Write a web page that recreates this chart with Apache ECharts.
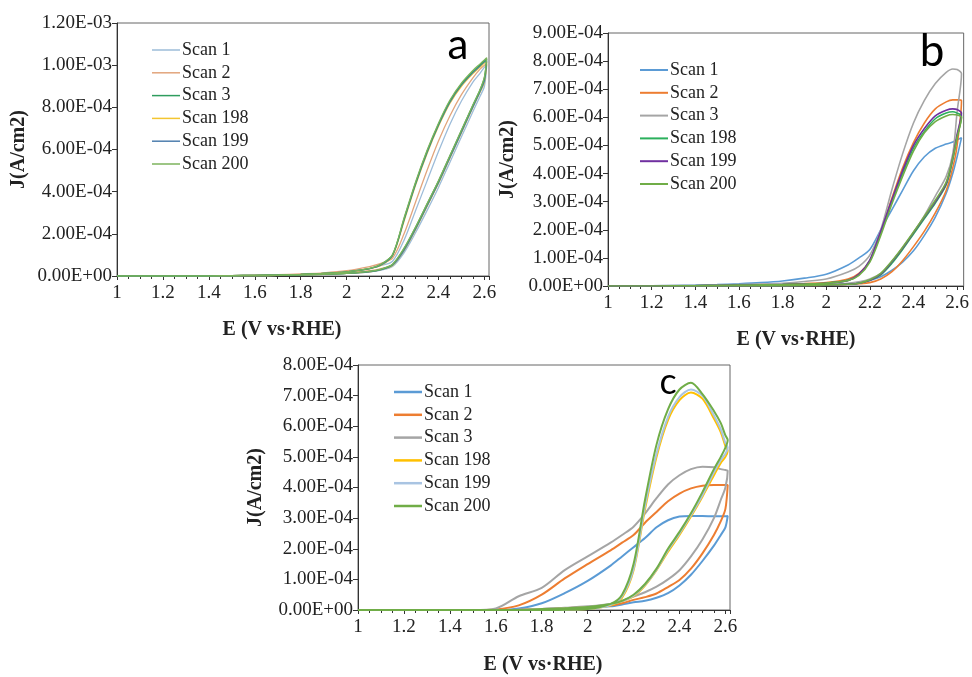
<!DOCTYPE html>
<html>
<head>
<meta charset="utf-8">
<script src="https://cdn.jsdelivr.net/npm/echarts@6/dist/echarts.min.js"></script>
<style>
html,body{margin:0;padding:0;background:#fff;}
#chart{width:972px;height:677px;}
</style>
</head>
<body>
<div id="chart"></div>
<script>
// ---------- DATA (current density in units of 1e-4 A/cm2) ----------
const SCANS = ['Scan 1', 'Scan 2', 'Scan 3', 'Scan 198', 'Scan 199', 'Scan 200'];
const E_GRID = [1.0, 1.2, 1.4, 1.5, 1.6, 1.7, 1.8, 1.9, 2.0, 2.1, 2.15, 2.2, 2.25, 2.3, 2.35, 2.4, 2.45, 2.5, 2.55, 2.58, 2.6];

// Panel a
const A_VERTEX_E = 2.61;
const A_UP = [
  [0,0,0.01,0.02,0.03,0.05,0.08,0.12,0.2,0.35,0.5,0.7,1.7,3.1,4.5,5.9,7.2,8.3,9.2,9.6,9.9],
  [0,0,0.01,0.02,0.04,0.06,0.1,0.15,0.25,0.45,0.6,0.85,2.0,3.5,5.0,6.4,7.6,8.6,9.4,9.8,10.0],
  [0,0,0.01,0.02,0.03,0.05,0.08,0.12,0.2,0.35,0.55,1.0,2.7,4.4,5.9,7.2,8.3,9.1,9.7,10.0,10.2],
  [0,0,0.01,0.02,0.03,0.05,0.08,0.12,0.2,0.35,0.5,0.95,2.6,4.3,5.8,7.1,8.2,9.0,9.6,9.9,10.1],
  [0,0,0.01,0.02,0.03,0.05,0.08,0.12,0.2,0.35,0.52,0.98,2.65,4.35,5.85,7.15,8.25,9.05,9.65,9.95,10.15],
  [0,0,0.01,0.02,0.03,0.05,0.08,0.12,0.2,0.36,0.56,1.02,2.75,4.45,5.95,7.25,8.35,9.15,9.75,10.05,10.25]
];
const A_VERTEX_J = [10.0, 10.05, 10.3, 10.15, 10.2, 10.35];
const A_DOWN = [
  [0,0,0,0.01,0.02,0.03,0.05,0.08,0.12,0.2,0.28,0.45,1.1,2.05,3.1,4.2,5.4,6.6,7.8,8.5,9.0],
  [0,0,0,0.01,0.02,0.03,0.05,0.09,0.15,0.25,0.35,0.55,1.25,2.25,3.35,4.45,5.65,6.85,8.05,8.75,9.3],
  [0,0,0,0.01,0.02,0.03,0.05,0.08,0.13,0.22,0.32,0.55,1.3,2.3,3.4,4.5,5.7,6.9,8.1,8.8,9.4],
  [0,0,0,0.01,0.02,0.03,0.05,0.08,0.12,0.2,0.3,0.5,1.2,2.2,3.3,4.4,5.6,6.8,8.0,8.7,9.2],
  [0,0,0,0.01,0.02,0.03,0.05,0.08,0.12,0.2,0.3,0.52,1.22,2.22,3.32,4.42,5.62,6.82,8.02,8.72,9.25],
  [0,0,0,0.01,0.02,0.03,0.05,0.08,0.13,0.22,0.33,0.56,1.32,2.32,3.42,4.52,5.72,6.92,8.12,8.82,9.45]
];

// Panel b
const B_VERTEX_E = 2.62;
const B_UP = [
  [0,0.01,0.03,0.05,0.08,0.12,0.18,0.28,0.42,0.75,1.0,1.3,2.0,2.7,3.4,4.1,4.6,4.9,5.05,5.12,5.2],
  [0,0,0.01,0.02,0.03,0.05,0.07,0.09,0.12,0.25,0.45,0.9,1.9,3.1,4.2,5.1,5.8,6.3,6.55,6.62,6.62],
  [0,0.01,0.02,0.03,0.05,0.07,0.1,0.16,0.25,0.5,0.7,1.1,2.0,3.4,4.7,5.8,6.6,7.2,7.6,7.72,7.7],
  [0,0,0.01,0.02,0.03,0.04,0.05,0.07,0.1,0.2,0.4,0.9,1.9,3.0,4.0,4.9,5.5,5.95,6.15,6.2,6.15],
  [0,0,0.01,0.02,0.03,0.04,0.05,0.07,0.1,0.2,0.42,0.92,1.95,3.05,4.1,5.0,5.6,6.05,6.25,6.3,6.28],
  [0,0,0.01,0.02,0.03,0.04,0.05,0.07,0.1,0.2,0.38,0.85,1.8,2.9,3.9,4.8,5.45,5.85,6.05,6.1,6.08]
];
const B_VERTEX_J = [5.27, 6.6, 7.55, 6.05, 6.15, 6.0];
const B_DOWN = [
  [0,0,0.003,0.005,0.008,0.01,0.015,0.02,0.03,0.08,0.12,0.2,0.33,0.55,0.85,1.25,1.8,2.45,3.3,4.0,4.6],
  [0,0,0,0.005,0.008,0.01,0.015,0.02,0.03,0.06,0.08,0.12,0.25,0.5,0.9,1.4,1.95,2.6,3.4,4.2,5.0],
  [0,0,0.003,0.005,0.008,0.01,0.02,0.03,0.06,0.1,0.15,0.25,0.45,0.85,1.35,1.9,2.5,3.2,3.9,4.7,6.2],
  [0,0,0,0.005,0.008,0.01,0.015,0.02,0.04,0.06,0.1,0.2,0.4,0.8,1.3,1.85,2.4,2.95,3.6,4.5,5.3],
  [0,0,0,0.005,0.008,0.01,0.015,0.02,0.04,0.06,0.1,0.2,0.42,0.85,1.35,1.9,2.45,3.0,3.65,4.55,5.4],
  [0,0,0,0.005,0.008,0.01,0.015,0.02,0.04,0.06,0.1,0.22,0.45,0.88,1.38,1.92,2.48,3.05,3.7,4.55,5.3]
];

// Panel c
const C_VERTEX_E = 2.61;
const C_UP = [
  [0,0,0,0,0,0.05,0.22,0.55,0.95,1.45,1.75,2.05,2.35,2.7,2.93,3.05,3.07,3.07,3.06,3.06,3.06],
  [0,0,0,0,0.02,0.15,0.5,1.03,1.5,1.95,2.2,2.45,2.85,3.2,3.55,3.8,3.97,4.06,4.08,4.08,4.08],
  [0,0,0,0,0.05,0.45,0.72,1.3,1.75,2.2,2.45,2.72,3.15,3.65,4.1,4.4,4.6,4.68,4.66,4.6,4.57],
  [0,0,0,0,0,0,0,0.01,0.03,0.15,0.4,1.3,3.3,5.0,6.2,6.85,7.1,6.9,6.25,5.8,5.35],
  [0,0,0,0,0,0,0,0.01,0.03,0.17,0.45,1.35,3.4,5.1,6.3,6.95,7.2,7.0,6.35,5.9,5.45],
  [0,0,0,0,0,0,0,0.01,0.03,0.2,0.5,1.5,3.6,5.4,6.55,7.2,7.42,7.05,6.5,6.1,5.7]
];
const C_VERTEX_J = [3.07, 4.08, 4.55, 5.2, 5.3, 5.55];
const C_DOWN = [
  [0,0,0,0,0,0.01,0.03,0.05,0.08,0.12,0.18,0.25,0.3,0.4,0.55,0.8,1.15,1.6,2.1,2.45,2.7],
  [0,0,0,0,0,0.01,0.03,0.06,0.1,0.15,0.22,0.33,0.42,0.54,0.75,0.98,1.35,1.85,2.45,2.9,3.3],
  [0,0,0,0,0,0.01,0.03,0.07,0.12,0.2,0.3,0.44,0.58,0.76,1.0,1.3,1.75,2.3,3.0,3.6,4.0],
  [0,0,0,0,0,0,0.02,0.05,0.09,0.18,0.28,0.45,0.8,1.3,1.9,2.45,3.05,3.7,4.4,4.8,5.0],
  [0,0,0,0,0,0,0.02,0.05,0.09,0.19,0.29,0.47,0.82,1.32,1.95,2.5,3.1,3.75,4.5,4.9,5.1],
  [0,0,0,0,0,0,0.03,0.06,0.1,0.2,0.3,0.5,0.85,1.35,2.0,2.55,3.16,3.85,4.6,5.0,5.3]
];

// ---------- STYLES ----------
const COLORS_A = ['#9dbcd9', '#e2a57c', '#2e9d5e', '#f3c531', '#4f7fae', '#7cb35c'];
const COLORS_B = ['#5b9bd5', '#ed7d31', '#a5a5a5', '#2bb05c', '#7030a0', '#70ad47'];
const COLORS_C = ['#5b9bd5', '#ed7d31', '#a5a5a5', '#ffc000', '#a9c4e2', '#70ad47'];
const SERIF = '"Liberation Serif", "DejaVu Serif", serif';

function loop(up, vE, vJ, down) {
  const pts = [];
  for (let i = 0; i < E_GRID.length; i++) pts.push([E_GRID[i], up[i]]);
  pts.push([vE, vJ]);
  for (let i = E_GRID.length - 1; i >= 0; i--) pts.push([E_GRID[i], down[i]]);
  return pts;
}

function sci(v) {
  const val = v * 1e-4;
  if (Math.abs(val) < 1e-12) return '0.00E+00';
  const exp = Math.floor(Math.log10(Math.abs(val)) + 1e-9);
  const mant = val / Math.pow(10, exp);
  const s = Math.abs(exp).toString().padStart(2, '0');
  return mant.toFixed(2) + 'E' + (exp < 0 ? '-' : '+') + s;
}

const panels = [
  {key: 'a', up: A_UP, down: A_DOWN, vE: A_VERTEX_E, vJ: A_VERTEX_J, colors: COLORS_A, width: 1.3, legendH: 1.5,
   grid: {left: 117, top: 23, width: 372, height: 253}, xMax: 2.62, yMax: 12, yInt: 2, nameGap: 88,
   legend: {left: 147, top: 36}},
  {key: 'b', up: B_UP, down: B_DOWN, vE: B_VERTEX_E, vJ: B_VERTEX_J, colors: COLORS_B, width: 1.6, legendH: 2,
   grid: {left: 608, top: 33, width: 359, height: 253}, xMax: 2.63, yMax: 9, yInt: 1, nameGap: 90,
   legend: {left: 635, top: 56}},
  {key: 'c', up: C_UP, down: C_DOWN, vE: C_VERTEX_E, vJ: C_VERTEX_J, colors: COLORS_C, width: 2, legendH: 2.5,
   grid: {left: 358, top: 365, width: 372, height: 245}, xMax: 2.62, yMax: 8, yInt: 1, nameGap: 92,
   legend: {left: 389, top: 378}}
];

const grids = [], xAxes = [], yAxes = [], series = [], legends = [];
panels.forEach((p, pi) => {
  grids.push(Object.assign({show: true, borderColor: '#666', borderWidth: 1, backgroundColor: '#fff'}, p.grid));
  xAxes.push({
    type: 'value', gridIndex: pi, min: 1, max: p.xMax, interval: 0.2,
    axisLine: {show: true, onZero: false, lineStyle: {color: '#333', width: 1}},
    axisTick: {show: true, inside: false, length: 4, lineStyle: {color: '#333'}},
    minorTick: {show: true, splitNumber: 4, length: 3, lineStyle: {color: '#333'}},
    splitLine: {show: false},
    axisLabel: {showMaxLabel: false, margin: 8, color: '#222', fontFamily: SERIF, fontSize: 19,
      formatter: v => String(Math.round(v * 10) / 10)}
  });
  yAxes.push({
    type: 'value', gridIndex: pi, min: 0, max: p.yMax, interval: p.yInt,
    name: 'J(A/cm2)', nameLocation: 'middle', nameRotate: 90, nameGap: p.nameGap,
    nameTextStyle: {fontFamily: SERIF, fontSize: 20, fontWeight: 'bold', color: '#222'},
    axisLine: {show: true, lineStyle: {color: '#333', width: 1}},
    axisTick: {show: true, inside: false, length: 5, lineStyle: {color: '#333'}},
    splitLine: {show: false},
    axisLabel: {margin: 5, color: '#222', fontFamily: SERIF, fontSize: 19, formatter: sci}
  });
  SCANS.forEach((s, si) => {
    series.push({
      name: p.key + '|' + s, type: 'line', xAxisIndex: pi, yAxisIndex: pi,
      data: loop(p.up[si], p.vE, p.vJ[si], p.down[si]),
      smooth: 0.3, symbol: 'none', showSymbol: false,
      lineStyle: {color: p.colors[si], width: p.width},
      itemStyle: {color: p.colors[si]},
      z: (pi === 0 && (si === 2 || si === 5)) ? 5 : 3
    });
  });
  legends.push({
    orient: 'vertical', left: p.legend.left, top: p.legend.top,
    data: SCANS.map(s => ({name: p.key + '|' + s, icon: 'rect'})),
    formatter: n => n.split('|')[1],
    itemWidth: 28, itemHeight: p.legendH, itemGap: 4.8, selectedMode: false,
    textStyle: {fontFamily: SERIF, fontSize: 18, color: '#222', lineHeight: 18, padding: [0, 0, 0, -3]}
  });
});

const xTitleStyle = {text: 'E (V vs·RHE)', font: 'bold 20px "Liberation Serif", serif', fill: '#222', align: 'center', verticalAlign: 'middle'};
const letterFont = (sz) => sz + 'px Lato, "Open Sans", sans-serif';

const chart = echarts.init(document.getElementById('chart'), null, {renderer: 'canvas'});
chart.setOption({
  backgroundColor: '#fff',
  animation: false,
  grid: grids, xAxis: xAxes, yAxis: yAxes, legend: legends, series: series,
  graphic: [
    {type: 'text', x: 282, y: 330, style: Object.assign({}, xTitleStyle)},
    {type: 'text', x: 796, y: 340, style: Object.assign({}, xTitleStyle)},
    {type: 'text', x: 543, y: 665, style: Object.assign({}, xTitleStyle)},
    {type: 'text', x: 458, y: 45, style: {text: 'a', font: letterFont(42), fill: '#000', align: 'center', verticalAlign: 'middle'}, z: 10},
    {type: 'text', x: 932, y: 52, style: {text: 'b', font: letterFont(44), fill: '#000', align: 'center', verticalAlign: 'middle'}, z: 10},
    {type: 'text', x: 668, y: 382, style: {text: 'c', font: letterFont(36), fill: '#000', align: 'center', verticalAlign: 'middle'}, z: 10}
  ]
});
</script>
</body>
</html>
